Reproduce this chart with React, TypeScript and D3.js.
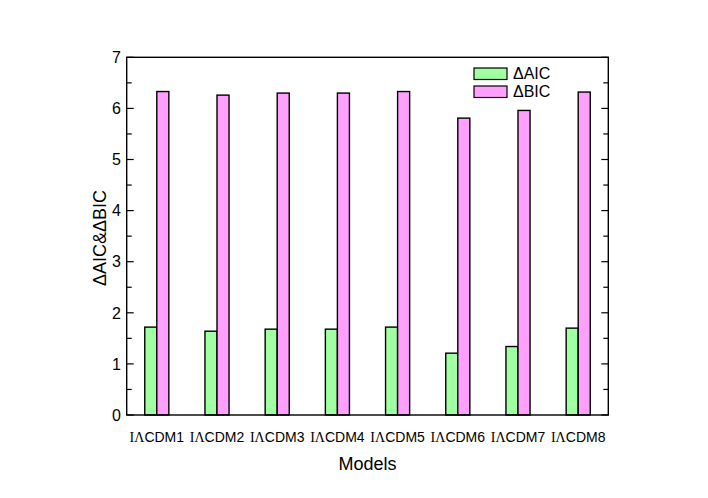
import React, { useEffect, useRef } from "react";
import * as d3 from "d3";

const models = ["1", "2", "3", "4", "5", "6", "7", "8"];
const seriesNames = ["ΔAIC", "ΔBIC"];
const aicValues = [1.72, 1.64, 1.68, 1.68, 1.72, 1.21, 1.34, 1.7];
const bicValues = [6.33, 6.26, 6.3, 6.3, 6.33, 5.81, 5.96, 6.32];
const seriesColors = ["#a0ffa0", "#ffa0ff"];

const App: React.FC = () => {
  const svgRef = useRef<SVGSVGElement>(null);

  useEffect(() => {
    const width = 708;
    const height = 498;
    const margin = { left: 126.7, right: 708 - 608.3, top: 57.3, bottom: 498 - 415 };
    const font = "'Liberation Sans', Arial, Helvetica, sans-serif";

    const svg = d3.select(svgRef.current).attr("width", width).attr("height", height);
    svg.selectAll("*").remove();

    const x0 = d3
      .scaleBand()
      .domain(models)
      .range([margin.left, width - margin.right])
      .paddingInner(0.6)
      .paddingOuter(0.3);
    const x1 = d3.scaleBand().domain(seriesNames).range([0, x0.bandwidth()]);
    const y = d3.scaleLinear().domain([0, 7]).range([height - margin.bottom, margin.top]);

    const rows = models.map((m, i) => ({ m, vals: [aicValues[i], bicValues[i]] }));

    const groups = svg
      .append("g")
      .selectAll("g")
      .data(rows)
      .enter()
      .append("g")
      .attr("transform", (d) => `translate(${x0(d.m)},0)`);

    groups
      .selectAll("rect")
      .data((d) => d.vals.map((v, j) => ({ v, j })))
      .enter()
      .append("rect")
      .attr("x", (d) => x1(seriesNames[d.j])!)
      .attr("width", x1.bandwidth())
      .attr("y", (d) => y(d.v))
      .attr("height", (d) => y(0) - y(d.v))
      .attr("fill", (d) => seriesColors[d.j])
      .attr("stroke", "#000")
      .attr("stroke-width", 1.4);

    // frame
    svg
      .append("rect")
      .attr("x", margin.left)
      .attr("y", margin.top)
      .attr("width", width - margin.right - margin.left)
      .attr("height", height - margin.bottom - margin.top)
      .attr("fill", "none")
      .attr("stroke", "#000")
      .attr("stroke-width", 1.4);

    // ticks on left and right, inward
    const major = d3.range(0, 8, 1);
    const minor = d3.range(0.5, 7, 1);
    const xl = margin.left;
    const xr = width - margin.right;
    const tickG = svg.append("g").attr("stroke", "#000").attr("stroke-width", 1.2);
    major.forEach((t) => {
      tickG.append("line").attr("x1", xl).attr("x2", xl + 7).attr("y1", y(t)).attr("y2", y(t));
      tickG.append("line").attr("x1", xr).attr("x2", xr - 7).attr("y1", y(t)).attr("y2", y(t));
    });
    minor.forEach((t) => {
      tickG.append("line").attr("x1", xl).attr("x2", xl + 5).attr("y1", y(t)).attr("y2", y(t));
      tickG.append("line").attr("x1", xr).attr("x2", xr - 5).attr("y1", y(t)).attr("y2", y(t));
    });

    svg
      .append("g")
      .selectAll("text")
      .data(major)
      .enter()
      .append("text")
      .attr("x", 121)
      .attr("y", (d) => y(d))
      .attr("dy", "0.36em")
      .attr("text-anchor", "end")
      .style("font-family", font)
      .style("font-size", "16px")
      .text((d) => d);

    // x labels: "IΛ" looks like a serif face, "CDM#" sans
    const xl2 = svg
      .append("g")
      .selectAll("text")
      .data(models)
      .enter()
      .append("text")
      .attr("x", (d) => x0(d)! + x0.bandwidth() / 2)
      .attr("y", 442)
      .attr("text-anchor", "middle")
      .style("font-size", "14px");
    xl2
      .append("tspan")
      .style("font-family", "'Liberation Serif', 'Times New Roman', serif")
      .text("IΛ");
    xl2
      .append("tspan")
      .style("font-family", font)
      .text((d) => "CDM" + d);

    svg
      .append("text")
      .attr("x", (margin.left + xr) / 2)
      .attr("y", 470)
      .attr("text-anchor", "middle")
      .style("font-family", font)
      .style("font-size", "18px")
      .text("Models");

    svg
      .append("text")
      .attr("transform", `translate(106,238) rotate(-90)`)
      .attr("text-anchor", "middle")
      .style("font-family", font)
      .style("font-size", "18px")
      .text("ΔAIC&ΔBIC");

    // legend
    const legend = svg
      .append("g")
      .selectAll("g")
      .data(seriesNames)
      .enter()
      .append("g")
      .attr("transform", (_, i) => `translate(474,${68 + i * 18})`);
    legend
      .append("rect")
      .attr("width", 33)
      .attr("height", 11.5)
      .attr("fill", (_, i) => seriesColors[i])
      .attr("stroke", "#000")
      .attr("stroke-width", 1.2);
    legend
      .append("text")
      .attr("x", 39)
      .attr("y", 11)
      .style("font-family", font)
      .style("font-size", "16px")
      .text((d) => d);
  }, []);

  return (
    <svg
      ref={svgRef}
      width={708}
      height={498}
      style={{ position: "absolute", left: 0, top: 0, background: "#fff" }}
    />
  );
};

export default App;
